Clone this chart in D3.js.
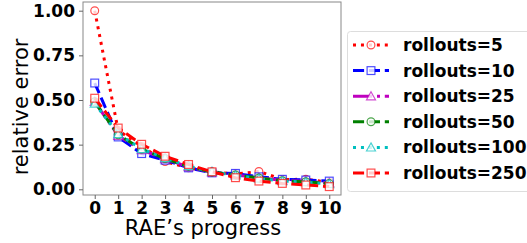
<!DOCTYPE html>
<html>
<head>
<meta charset="utf-8">
<script src="https://cdn.jsdelivr.net/npm/d3@7"></script>
<style>
body { margin: 0; background: #fff; }
svg text { font-family: "DejaVu Sans", sans-serif; }
</style>
</head>
<body>
<svg id="chart" width="527" height="243"></svg>
<script>
// progress steps on x axis
const steps = [0, 1, 2, 3, 4, 5, 6, 7, 8, 9, 10];
const yTicks = [0, 0.25, 0.5, 0.75, 1.0];

// relative error per rollout setting
const r5   = [1.00, 0.33, 0.24, 0.155, 0.12, 0.098, 0.085, 0.100, 0.055, 0.056, 0.040];
const r10  = [0.595, 0.293, 0.200, 0.163, 0.120, 0.092, 0.089, 0.070, 0.056, 0.052, 0.046];
const r25  = [0.49, 0.30, 0.22, 0.17, 0.125, 0.095, 0.080, 0.065, 0.050, 0.045, 0.035];
const r50  = [0.49, 0.305, 0.225, 0.172, 0.128, 0.096, 0.080, 0.063, 0.048, 0.042, 0.032];
const r100 = [0.48, 0.31, 0.225, 0.175, 0.13, 0.098, 0.078, 0.060, 0.046, 0.040, 0.030];
const r250 = [0.51, 0.343, 0.252, 0.185, 0.139, 0.098, 0.065, 0.046, 0.033, 0.024, 0.015];

// matplotlib-like dash patterns for linewidth 3
const dotted = "3,4.95";
const dashed = "11.1,4.8";
const dashdot = "19.2,4.8,3,4.8";

const series = [
    {name: "rollouts=5",   values: r5,   color: "#ff0000", dash: dotted,  marker: "circle"},
    {name: "rollouts=10",  values: r10,  color: "#0000ff", dash: dashed,  marker: "square"},
    {name: "rollouts=25",  values: r25,  color: "#bf00bf", dash: dashdot, marker: "triangle"},
    {name: "rollouts=50",  values: r50,  color: "#008000", dash: dashed,  marker: "circle"},
    {name: "rollouts=100", values: r100, color: "#00bfbf", dash: dotted,  marker: "triangle"},
    {name: "rollouts=250", values: r250, color: "#ff0000", dash: dashed,  marker: "square"}
];

let svg = d3.select("#chart");

let plotLeft = 83, plotRight = 341, plotTop = 2, plotBottom = 195;

let x = d3.scaleLinear().domain([-0.5, 10.5]).range([plotLeft, plotRight]);
let y = d3.scaleLinear().domain([0, 1]).range([189.3, 10.7]);

// frame
svg.append("rect")
    .attr("x", plotLeft).attr("y", plotTop)
    .attr("width", plotRight - plotLeft).attr("height", plotBottom - plotTop)
    .attr("fill", "none").attr("stroke", "#888").attr("stroke-width", 1);

// y axis
let yAxis = svg.append("g")
    .attr("transform", "translate(" + plotLeft + ",0)")
    .call(d3.axisLeft(y).tickValues(yTicks).tickFormat(d3.format(".2f")).tickSize(4).tickPadding(4));
yAxis.select(".domain").remove();
yAxis.selectAll("line").attr("stroke", "#666");
yAxis.selectAll("text")
    .attr("font-size", "17px").attr("font-weight", "bold")
    .attr("font-family", "DejaVu Sans").attr("fill", "#000");

// x axis
let xAxis = svg.append("g")
    .attr("transform", "translate(0," + plotBottom + ")")
    .call(d3.axisBottom(x).tickValues(steps).tickFormat(d3.format("d")).tickSize(4).tickPadding(3));
xAxis.select(".domain").remove();
xAxis.selectAll("line").attr("stroke", "#666");
xAxis.selectAll("text")
    .attr("font-size", "17px").attr("font-weight", "bold")
    .attr("font-family", "DejaVu Sans").attr("fill", "#000");

// axis titles
svg.append("text")
    .attr("x", 203).attr("y", 235)
    .attr("text-anchor", "middle")
    .attr("font-family", "Liberation Sans")
    .attr("font-size", "21px")
    .text("RAE\u2019s progress");

svg.append("text")
    .attr("transform", "translate(28,107) rotate(-90)")
    .attr("text-anchor", "middle")
    .attr("font-family", "Liberation Sans")
    .attr("font-size", "21px")
    .text("relative error");

function drawMarker(g, type, cx, cy, color) {
    let m;
    if (type === "circle") {
        m = g.append("circle").attr("cx", cx).attr("cy", cy).attr("r", 3.9);
    } else if (type === "square") {
        m = g.append("rect").attr("x", cx - 3.9).attr("y", cy - 3.9)
            .attr("width", 7.8).attr("height", 7.8);
    } else {
        m = g.append("path")
            .attr("d", "M" + cx + "," + (cy - 4.5) + "L" + (cx + 4.5) + "," + (cy + 3.6) +
                       "L" + (cx - 4.5) + "," + (cy + 3.6) + "Z");
    }
    m.attr("fill", "rgba(255,255,255,0.8)")
        .attr("stroke", color).attr("stroke-opacity", 0.7)
        .attr("stroke-width", 1.2);
}

let line = d3.line()
    .x(function(d, i) { return x(steps[i]); })
    .y(function(d) { return y(d); });

let plot = svg.append("g");
series.forEach(function(s) {
    plot.append("path")
        .datum(s.values)
        .attr("d", line)
        .attr("fill", "none")
        .attr("stroke", s.color)
        .attr("stroke-width", 3)
        .attr("stroke-dasharray", s.dash);
    let mg = plot.append("g");
    s.values.forEach(function(v, i) {
        drawMarker(mg, s.marker, x(steps[i]), y(v), s.color);
    });
});

// legend
let lg = svg.append("g");
lg.append("rect")
    .attr("x", 347.5).attr("y", 31.5)
    .attr("width", 200).attr("height", 160)
    .attr("rx", 3)
    .attr("fill", "#fff").attr("stroke", "#ddd");

series.forEach(function(s, i) {
    let ly = 45 + i * 25.6;
    lg.append("line")
        .attr("x1", 353).attr("x2", 389)
        .attr("y1", ly).attr("y2", ly)
        .attr("stroke", s.color).attr("stroke-width", 3)
        .attr("stroke-dasharray", s.dash);
    drawMarker(lg, s.marker, 371, ly, s.color);
    lg.append("text")
        .attr("x", 403).attr("y", ly + 6)
        .attr("font-size", "17px").attr("font-weight", "bold")
        .text(s.name);
});
</script>
</body>
</html>
